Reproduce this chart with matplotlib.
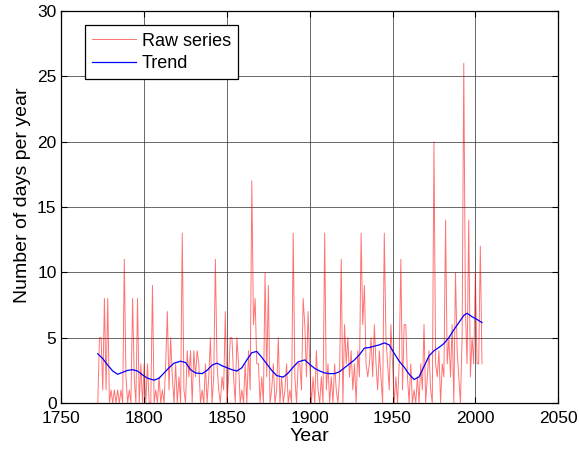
import matplotlib
matplotlib.use("Agg")
import matplotlib.pyplot as plt

plt.rcParams['font.family'] = ['Liberation Sans', 'DejaVu Sans']

raw_start = 1772
raw_values = [
    0, 5, 5, 1, 8, 1, 8, 0, 1, 0,
    1, 0, 1, 0, 1, 0, 11, 2, 0, 1,
    0, 8, 2, 0, 8, 0, 3, 0, 3, 0,
    3, 0, 0, 9, 0, 1, 0, 2, 0, 1,
    0, 3, 7, 1, 5, 2, 0, 3, 0, 2,
    0, 13, 1, 0, 4, 2, 4, 0, 4, 2,
    4, 3, 0, 1, 0, 3, 0, 2, 5, 0,
    2, 11, 3, 1, 0, 2, 1, 7, 0, 2,
    5, 5, 2, 0, 5, 3, 0, 1, 0, 3,
    0, 4, 1, 17, 6, 8, 3, 3, 0, 2,
    0, 10, 2, 9, 0, 1, 3, 0, 1, 5,
    0, 2, 0, 1, 3, 0, 1, 0, 13, 2,
    0, 3, 3, 1, 8, 6, 2, 7, 3, 0,
    2, 0, 4, 1, 0, 2, 0, 13, 1, 3,
    0, 2, 0, 3, 1, 0, 2, 11, 0, 6,
    3, 5, 2, 4, 1, 3, 0, 4, 2, 13,
    6, 9, 3, 2, 3, 5, 2, 6, 3, 1,
    4, 2, 0, 13, 5, 3, 1, 6, 3, 0,
    2, 0, 3, 11, 1, 6, 6, 2, 0, 3,
    0, 1, 0, 2, 0, 3, 1, 6, 0, 2,
    4, 1, 0, 20, 3, 2, 4, 0, 3, 2,
    14, 3, 5, 2, 6, 0, 10, 4, 2, 0,
    5, 26, 7, 3, 14, 2, 5, 3, 10, 3,
    3, 12, 3,
]
raw_years = list(range(raw_start, raw_start + len(raw_values)))

trend_years = [1772, 1775, 1778, 1781, 1784, 1787, 1790, 1793, 1796, 1799,
               1802, 1806, 1809, 1812, 1815, 1818, 1822, 1825, 1828, 1831,
               1835, 1838, 1841, 1844, 1847, 1850, 1853, 1856, 1859, 1862,
               1865, 1868, 1871, 1874, 1877, 1880, 1884, 1887, 1890, 1893,
               1897, 1900, 1903, 1906, 1909, 1912, 1915, 1918, 1921, 1924,
               1927, 1930, 1933, 1936, 1939, 1942, 1945, 1948, 1951, 1954,
               1957, 1960, 1963, 1966, 1969, 1972, 1975, 1978, 1981, 1984,
               1987, 1990, 1993, 1995, 1998, 2001, 2004]
trend_values = [3.77, 3.4, 2.9, 2.45, 2.2, 2.35, 2.5, 2.55, 2.45, 2.15,
                1.9, 1.75, 1.9, 2.3, 2.7, 3.05, 3.2, 3.1, 2.55, 2.3,
                2.25, 2.5, 2.9, 3.05, 2.85, 2.7, 2.55, 2.45, 2.7, 3.3,
                3.85, 3.95, 3.5, 3.0, 2.5, 2.1, 1.98, 2.3, 2.75, 3.15,
                3.3, 2.95, 2.65, 2.45, 2.3, 2.25, 2.25, 2.4, 2.7, 3.0,
                3.3, 3.7, 4.2, 4.25, 4.35, 4.45, 4.6, 4.45, 3.8, 3.2,
                2.75, 2.2, 1.8, 2.0, 2.8, 3.6, 4.0, 4.25, 4.55, 5.0,
                5.6, 6.15, 6.7, 6.87, 6.6, 6.4, 6.15]

x_ticks = [1750, 1800, 1850, 1900, 1950, 2000, 2050]
y_ticks = [0, 5, 10, 15, 20, 25, 30]

fig = plt.figure(figsize=(5.79, 4.5), dpi=100)
ax = fig.add_axes([0.106, 0.1044, 0.858, 0.8712])

ax.plot(raw_years, raw_values, color=(1.0, 0.0, 0.0), alpha=0.55, lw=0.7,
        label='Raw series', zorder=3)
ax.plot(trend_years, trend_values, color=(0.0, 0.0, 1.0), lw=0.9,
        label='Trend', zorder=4)

ax.set_xlim(1750, 2050)
ax.set_ylim(0, 30)
ax.set_xticks(x_ticks)
ax.set_yticks(y_ticks)
ax.grid(True, color='0.25', lw=0.7, alpha=0.8)
ax.set_axisbelow(True)
ax.tick_params(direction='in', top=True, right=True, labelsize=12.5,
               length=4)
ax.tick_params(axis='x', pad=6)
ax.tick_params(axis='y', pad=3.5)
for s in ax.spines.values():
    s.set_linewidth(0.9)
ax.set_xlabel('Year', fontsize=14, labelpad=1)
ax.set_ylabel('Number of days per year', fontsize=14, labelpad=3)
ax.yaxis.set_label_coords(-0.062, 0.53)

leg = ax.legend(loc='upper left', bbox_to_anchor=(0.048, 0.963), fontsize=13,
                fancybox=False, framealpha=1, edgecolor='black',
                handlelength=2.4, borderpad=0.4, labelspacing=0.3,
                handletextpad=0.35, borderaxespad=0)
leg.get_frame().set_linewidth(0.9)

fig.savefig('out.png', dpi=100)
